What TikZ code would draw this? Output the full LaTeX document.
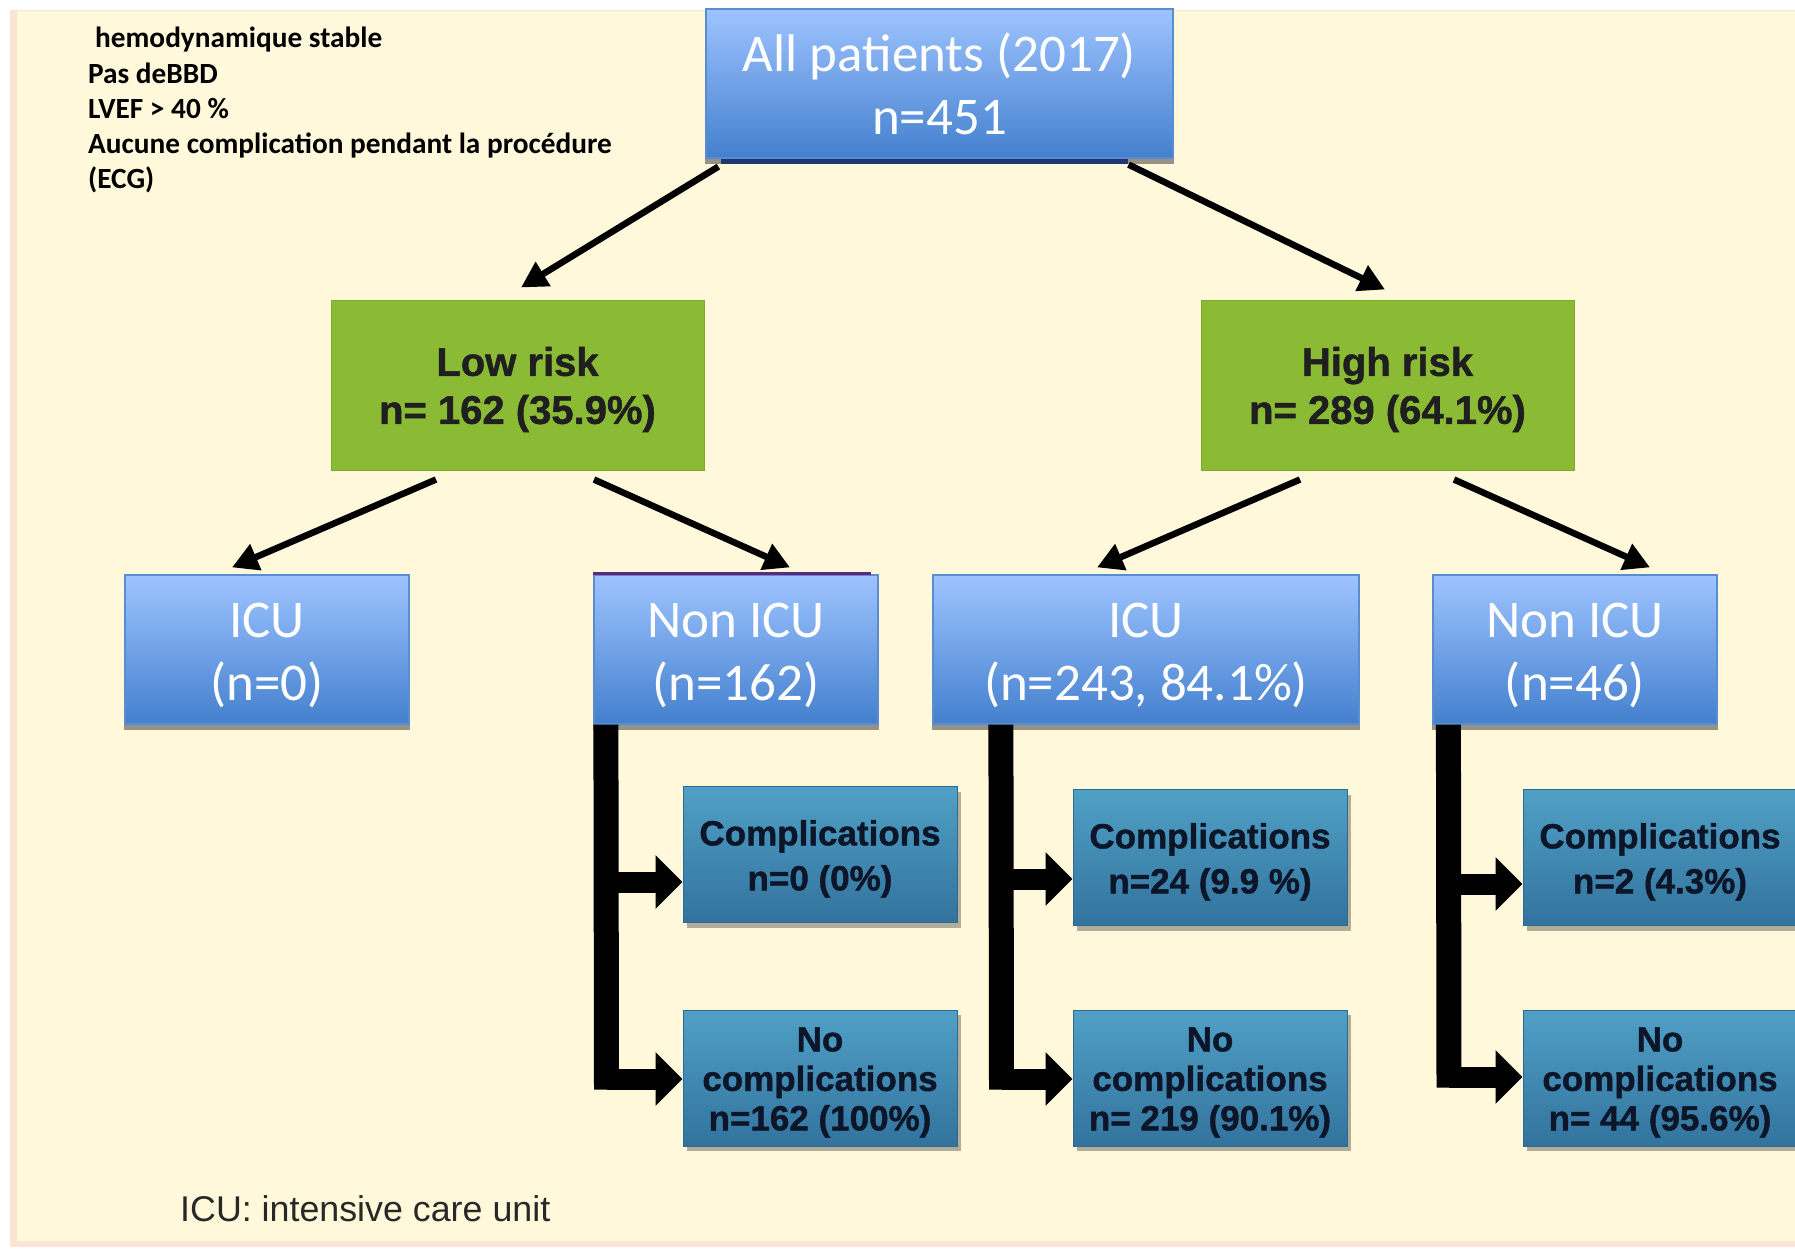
\documentclass[tikz,border=0pt]{standalone}
\usepackage{fontspec}
\setmainfont{Carlito}
\newfontfamily\arialfont{Liberation Sans}
\newfontfamily\arialheavy[FakeBold=1.2]{Liberation Sans}
\usetikzlibrary{arrows.meta,shadows}
\newcommand{\mystrut}[1]{\rule{0pt}{#1}}
\definecolor{bg}{RGB}{255,248,218}
\definecolor{bgedge}{RGB}{250,228,212}
\definecolor{bluetop}{RGB}{158,196,255}
\definecolor{bluebot}{RGB}{68,128,206}
\definecolor{blueedge}{RGB}{90,140,210}
\definecolor{greenfill}{RGB}{139,187,52}
\definecolor{greenedge}{RGB}{125,172,45}
\definecolor{tealtop}{RGB}{80,160,198}
\definecolor{tealbot}{RGB}{50,115,158}
\definecolor{tealedge}{RGB}{45,105,145}
\definecolor{navytext}{RGB}{12,22,40}
\definecolor{footgray}{RGB}{40,40,40}
\definecolor{stripgray}{RGB}{150,146,132}
\definecolor{navyband}{RGB}{30,55,110}
\definecolor{purpleline}{RGB}{95,40,120}
\begin{document}
\begin{tikzpicture}[x=1pt,y=-1pt,
  bluebox/.style={draw=blueedge, line width=1.2pt, top color=bluetop, bottom color=bluebot,
    text=white, font=\fontsize{53}{63}\selectfont, align=center, inner sep=0pt},
  icubox/.style={bluebox, minimum width=284pt, minimum height=149pt},
  greenbox/.style={draw=greenedge, line width=1pt, fill=greenfill, text=black!88,
    font=\arialheavy\bfseries\fontsize{40}{48}\selectfont, align=center, inner sep=0pt,
    minimum width=373pt, minimum height=170pt},
  tealbox/.style={draw=tealedge, line width=1pt, top color=tealtop, bottom color=tealbot,
    text=navytext, font=\arialheavy\bfseries\fontsize{35}{45}\selectfont, align=center, inner sep=0pt,
    minimum width=274pt, minimum height=136pt,
    drop shadow={shadow xshift=4pt, shadow yshift=-5pt, opacity=0.3, fill=black}},
  nocomp/.style={tealbox, font=\arialheavy\bfseries\fontsize{35}{39.5}\selectfont},
  thinarrow/.style={line width=6.5pt, black, -{Triangle[length=26pt,width=27pt]}},
  barv/.style={line width=25pt, black},
  barh/.style={line width=21pt, black, -{Triangle[length=27pt,width=52pt]}},
  strip/.style={fill=stripgray}
]
\path[use as bounding box, clip] (0,0) rectangle (1795,1251);
\fill[white] (0,0) rectangle (1795,1251);
\fill[bgedge] (10,10) rectangle (1795,1247);
\fill[bg] (17,11) rectangle (1795,1241);

% criteria text
\node[anchor=north west, align=left, inner sep=0pt,
      font=\bfseries\fontsize{29.3}{35.3}\selectfont] (crit) at (88,27)
  {\hspace*{7pt}hemodynamique stable\\Pas deBBD\\LVEF > 40 \%\\Aucune complication pendant la procédure\\(ECG)};

% top
\node[bluebox, minimum width=467pt, minimum height=149pt] (top) at (939.5,83.5)
  {All patients (2017)\\n=451};
\fill[strip] (top.south west) rectangle ([yshift=-5pt]top.south east);
\fill[navyband] ([xshift=16pt]top.south west) rectangle ([xshift=-46pt,yshift=-5pt]top.south east);

% risk
\node[greenbox] (low) at (517.5,385) {\mystrut{38pt}Low risk\\n= 162 (35.9\%)};
\node[greenbox] (high) at (1387.5,385) {\mystrut{38pt}High risk\\n= 289 (64.1\%)};

% ICU level
\node[icubox] (icu1) at (267,649.5) {\mystrut{46pt}ICU\\(n=0)};
\node[icubox] (nonicu1) at (736,649.5) {\mystrut{46pt}Non ICU\\(n=162)};
\node[icubox, minimum width=426pt] (icu2) at (1146,649.5) {\mystrut{46pt}ICU\\(n=243, 84.1\%)};
\node[icubox] (nonicu2) at (1575,649.5) {\mystrut{46pt}Non ICU\\(n=46)};
\foreach \b in {icu1,nonicu1,icu2,nonicu2}
  \fill[strip] (\b.south west) rectangle ([yshift=-5pt]\b.south east);
\draw[purpleline, line width=2.5pt] ([yshift=1pt]nonicu1.north west) -- ([xshift=-8pt,yshift=1pt]nonicu1.north east);

% outcome boxes
\node[tealbox] (comp1) at (820,854.5) {\mystrut{34pt}Complications\\n=0 (0\%)};
\node[nocomp] (nocomp1) at (820,1078) {\mystrut{33pt}No\\complications\\n=162 (100\%)};
\node[tealbox] (comp2) at (1210,857.5) {\mystrut{34pt}Complications\\n=24 (9.9 \%)};
\node[nocomp] (nocomp2) at (1210,1078) {\mystrut{33pt}No\\complications\\n= 219 (90.1\%)};
\node[tealbox] (comp3) at (1660,857.5) {\mystrut{34pt}Complications\\n=2 (4.3\%)};
\node[nocomp] (nocomp3) at (1660,1078) {\mystrut{33pt}No\\complications\\n= 44 (95.6\%)};

% thin arrows
\draw[thinarrow] ([xshift=13pt,yshift=-8pt]top.south west) -- ([xshift=3.5pt,yshift=12pt]low.north);
\draw[thinarrow] ([xshift=-45pt,yshift=-6pt]top.south east) -- ([xshift=-2.5pt,yshift=10pt]high.north);
\draw[thinarrow] ([xshift=-81.5pt,yshift=-9pt]low.south) -- ([xshift=-35pt,yshift=7pt]icu1.north);
\draw[thinarrow] ([xshift=76.5pt,yshift=-9pt]low.south) -- ([xshift=54pt,yshift=7pt]nonicu1.north);
\draw[thinarrow] ([xshift=-87.5pt,yshift=-9pt]high.south) -- ([xshift=-49pt,yshift=7pt]icu2.north);
\draw[thinarrow] ([xshift=66.5pt,yshift=-9pt]high.south) -- ([xshift=75pt,yshift=7pt]nonicu2.north);

% thick elbow connectors
\coordinate (v1top) at ([xshift=12.5pt]nonicu1.south west);
\coordinate (v1end) at (606.5,1089.5);
\coordinate (j1a) at (606.5,882);
\coordinate (j1b) at (606.5,1079);
\draw[barv] (v1top) -- (v1end);
\draw[barh] (j1a) -- (comp1.west |- j1a);
\draw[barh] (j1b) -- (nocomp1.west |- j1b);

\coordinate (v2top) at ([xshift=68.5pt]icu2.south west);
\coordinate (v2end) at (1001.5,1089.5);
\coordinate (j2a) at (1001.5,879);
\coordinate (j2b) at (1001.5,1079);
\draw[barv] (v2top) -- (v2end);
\draw[barh] (j2a) -- (comp2.west |- j2a);
\draw[barh] (j2b) -- (nocomp2.west |- j2b);

\coordinate (v3top) at ([xshift=16pt]nonicu2.south west);
\coordinate (v3end) at (1449,1087.5);
\coordinate (j3a) at (1449,884);
\coordinate (j3b) at (1449,1077);
\draw[barv] (v3top) -- (v3end);
\draw[barh] (j3a) -- (comp3.west |- j3a);
\draw[barh] (j3b) -- (nocomp3.west |- j3b);

% footnote
\node[anchor=base west, inner sep=0pt, text=footgray,
      font=\arialfont\fontsize{35.8}{42}\selectfont] (foot) at (180,1221) {ICU: intensive care unit};
\end{tikzpicture}
\end{document}
